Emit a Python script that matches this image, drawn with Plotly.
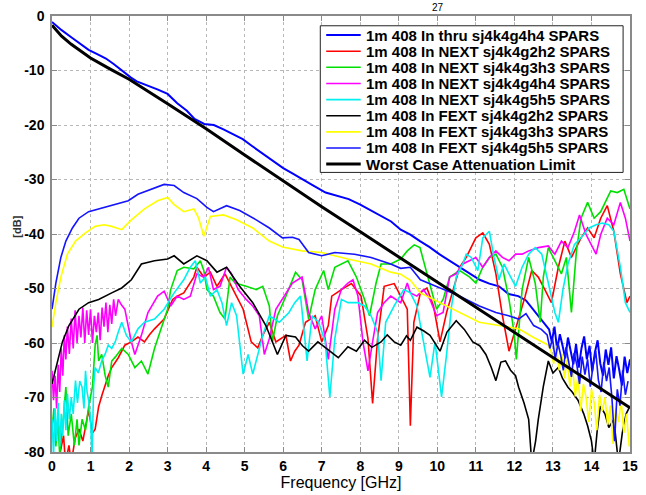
import plotly.graph_objects as go

# ---------------- measured data: frequency [GHz] and magnitude [dB] ----------------
thru_f = [0, 0.25, 0.5, 0.75, 0.95, 1.2, 1.4, 1.6, 1.8, 1.95, 2.05, 2.2, 2.5, 2.75, 3.0, 3.25,
          3.5, 3.7, 3.95, 4.2, 4.45, 4.7, 4.95, 5.2, 5.4, 5.6, 5.8, 6.0, 6.25, 6.5, 6.75, 7.1,
          7.4, 7.7, 8.0, 8.2, 8.5, 8.8, 9.05, 9.3, 9.55, 9.8, 10.05, 10.3, 10.6, 10.85, 11.1,
          11.35, 11.6, 11.85, 12.1, 12.3, 12.55, 12.8,
          12.9, 12.97, 13.04, 13.11, 13.18, 13.25, 13.32, 13.39, 13.46, 13.53, 13.6, 13.67,
          13.74, 13.81, 13.88, 13.95, 14.02, 14.09, 14.16, 14.23, 14.3, 14.37, 14.44, 14.51,
          14.58, 14.65, 14.72, 14.79, 14.86, 14.93, 15.0]
thru_db = [-1.1, -2.6, -3.9, -5.1, -6.2, -7.1, -7.8, -8.8, -9.9, -10.8, -11.3, -12.0, -12.8,
           -13.5, -14.3, -16.0, -17.4, -18.9, -19.8, -20.0, -20.8, -21.7, -22.6, -23.9, -24.9,
           -25.9, -26.9, -27.9, -28.9, -30.0, -31.0, -32.4, -33.0, -33.6, -34.6, -35.4, -36.5,
           -37.7, -39.2, -40.1, -41.3, -42.4, -43.7, -44.8, -46.1, -47.2, -48.4, -49.1, -49.6,
           -51.0, -51.4, -52.2, -54.4, -56.8,
           -57.5, -59.8, -57.0, -61.2, -58.4, -60.5, -62.8, -59.0, -61.5, -63.9, -60.2, -64.5,
           -61.0, -58.8, -63.0, -60.5, -65.2, -61.7, -59.5, -63.8, -66.0, -61.2, -64.0, -60.8,
           -66.5, -62.4, -64.9, -67.8, -62.5, -65.5, -63.0]

next22_f = [0, 0.1, 0.2, 0.3, 0.35, 0.44, 0.5, 0.6, 0.7, 0.8, 0.95, 1.05, 1.12, 1.21, 1.3, 1.38,
            1.46, 1.55, 1.72, 1.89, 2.06, 2.23, 2.4, 2.53, 2.66, 2.91, 3.13, 3.25, 3.42, 3.68,
            3.76, 3.94, 4.11, 4.28, 4.49, 4.7, 4.96, 5.17, 5.34, 5.47, 5.64, 5.81, 6.07, 6.19,
            6.3, 6.41, 6.58, 6.83, 7.0, 7.17, 7.26, 7.51, 7.77, 8.02, 8.2, 8.32, 8.45, 8.62,
            8.88, 9.05, 9.22, 9.3, 9.39, 9.56, 9.73, 9.9, 10.07, 10.24, 10.41, 10.58, 10.75,
            11.0, 11.18, 11.35, 11.52, 11.69, 11.86, 12.03, 12.28, 12.45, 12.62, 12.79, 12.96,
            13.14, 13.31, 13.48, 13.73, 13.9, 14.07, 14.24, 14.41, 14.58, 14.75, 14.92, 15.0]
next22_db = [-85, -82, -80.5, -77, -82, -78.8, -82, -77.5, -75.8, -78, -72.3, -76.5, -75.8,
             -71.7, -69.5, -67.5, -66, -64.5, -62.7, -60.4, -59.8, -58.9, -59.8, -58.5, -57.4,
             -55.6, -52.0, -51.4, -50.8, -47.9, -46.1, -47.9, -47.0, -49.6, -47.3, -50.2, -53.8,
             -59.8, -60.9, -58.6, -56.2, -59.8, -58.6, -63.3, -61.5, -60.4, -56.2, -55.0, -59.8,
             -56.8, -51.4, -50.2, -49.1, -51.4, -59.2, -71.1, -59.2, -49.6, -49.1, -51.4, -53.8,
             -75.2, -56.2, -50.8, -49.9, -53.2, -59.8, -54.4, -50.2, -46.1, -44.3, -40.7, -39.8,
             -41.9, -47.3, -55.0, -61.5, -57.4, -51.4, -46.7, -47.9, -50.2, -52.6, -46.1, -41.3,
             -44.3, -40.7, -38.9, -40.7, -37.1, -34.8, -39.5, -47.3, -52.6, -51.4]

next33_f = [0, 0.05, 0.1, 0.15, 0.2, 0.28, 0.36, 0.42, 0.5, 0.58, 0.65, 0.7, 0.78, 0.87, 0.95,
            1.05, 1.12, 1.17, 1.21, 1.29, 1.38, 1.46, 1.55, 1.65, 1.81, 1.98, 2.15, 2.32, 2.49,
            2.66, 2.83, 3.0, 3.08, 3.25, 3.42, 3.68, 3.85, 3.94, 4.02, 4.19, 4.36, 4.49, 4.62,
            4.75, 5.04, 5.3, 5.47, 5.64, 5.72, 5.85, 6.07, 6.32, 6.49, 6.66, 6.83, 7.05, 7.17,
            7.34, 7.68, 7.9, 8.11, 8.24, 8.41, 8.54, 8.79, 9.05, 9.22, 9.4, 9.55, 9.64, 9.81,
            9.98, 10.15, 10.32, 10.58, 10.84, 11.0, 11.18, 11.35, 11.52, 11.69, 11.86, 11.99,
            12.05, 12.2, 12.37, 12.54, 12.67, 12.75, 12.88, 13.05, 13.22, 13.35, 13.48, 13.61,
            13.73, 13.9, 14.07, 14.24, 14.5, 14.67, 14.84, 15.0]
next33_db = [-76, -72, -79, -74, -80.5, -75, -68.1, -77, -73, -78.8, -74, -78.8, -74.0, -76,
             -71.7, -68, -60.4, -58.6, -63.3, -62.1, -66, -68.1, -63.3, -62.5, -61.0, -62.1,
             -64.5, -63.3, -65.7, -61.0, -57.4, -53.8, -50.2, -46.7, -46.1, -46.4, -44.9, -46.7,
             -50.2, -51.4, -54.4, -55.6, -47.9, -49.0, -49.6, -50.2, -49.6, -53.2, -59.8, -55.0,
             -51.4, -47.0, -48.4, -55.6, -50.2, -46.7, -50.2, -46.1, -44.9, -47.9, -52.0, -55.0,
             -49.0, -45.5, -45.5, -44.6, -43.1, -42.0, -42.5, -44.9, -49.0, -53.8, -52.0, -47.9,
             -46.7, -47.9, -49.0, -46.1, -44.3, -43.7, -46.1, -52.0, -58.0, -63.0, -50.2, -44.3,
             -49.0, -56.2, -47.9, -42.5, -44.9, -47.3, -44.3, -54.4, -43.1, -37.1, -34.2, -37.1,
             -35.9, -32.1, -32.4, -31.8, -35.4]

next44_f = [0, 0.04, 0.08, 0.12, 0.16, 0.2, 0.24, 0.28, 0.32, 0.36, 0.4, 0.45, 0.5, 0.55, 0.6,
            0.65, 0.7, 0.75, 0.8, 0.85, 0.9, 0.95, 1.0, 1.05, 1.1, 1.15, 1.2, 1.25, 1.3, 1.35,
            1.4, 1.45, 1.5, 1.55, 1.6, 1.65, 1.72, 1.8, 1.89, 2.06, 2.15, 2.32, 2.49, 2.74, 2.91,
            3.08, 3.25, 3.42, 3.59, 3.76, 3.94, 4.06, 4.19, 4.36, 4.53, 4.66, 4.83, 5.04, 5.21,
            5.38, 5.51, 5.64, 5.81, 5.98, 6.24, 6.49, 6.66, 6.83, 7.0, 7.17, 7.34, 7.51, 7.68,
            7.81, 7.94, 8.07, 8.2, 8.32, 8.45, 8.62, 8.79, 9.05, 9.22, 9.3, 9.47, 9.64, 9.81,
            9.98, 10.15, 10.32, 10.49, 10.66, 10.84, 11.0, 11.18, 11.35, 11.52, 11.69, 11.86,
            12.03, 12.2, 12.37, 12.62, 12.88, 13.05, 13.22, 13.39, 13.56, 13.69, 13.86, 13.99,
            14.12, 14.24, 14.41, 14.58, 14.75, 14.88, 15.0]
next44_db = [-65.1, -70.5, -66, -72, -64, -69, -61, -66, -58.6, -63, -57, -62, -55.5, -61, -54,
             -60, -55, -59, -53.5, -60, -54, -58.5, -53.8, -60, -55, -58, -54.4, -59.5, -53.5,
             -57, -52.6, -58, -53, -56.5, -52.0, -55, -52.0, -53.0, -53.8, -59.8, -62.1, -58.6,
             -54.4, -51.4, -50.5, -53.2, -51.4, -52.0, -51.4, -47.3, -47.9, -46.1, -50.2, -49.6,
             -46.1, -47.3, -50.2, -52.0, -53.2, -55.0, -62.1, -59.2, -53.8, -52.0, -49.0, -47.9,
             -54.4, -57.4, -55.0, -63.0, -53.8, -50.2, -49.0, -48.4, -51.4, -59.8, -65.1, -59.8,
             -54.4, -52.6, -51.4, -52.6, -49.0, -50.8, -51.4, -50.2, -52.0, -55.0, -54.4, -47.9,
             -47.3, -45.5, -44.9, -44.3, -46.1, -44.3, -43.1, -44.3, -44.9, -43.7, -43.7, -43.1,
             -42.5, -42.2, -43.7, -41.3, -42.5, -39.5, -36.5, -40.1, -41.9, -43.7, -40.1, -37.1,
             -38.3, -34.2, -37.1, -41.3]

next55_f = [0, 0.04, 0.08, 0.12, 0.16, 0.2, 0.24, 0.28, 0.32, 0.36, 0.4, 0.45, 0.5, 0.55, 0.61,
            0.66, 0.72, 0.78, 0.83, 0.87, 0.91, 0.95, 1.0, 1.04, 1.08, 1.12, 1.2, 1.29, 1.38,
            1.46, 1.55, 1.64, 1.72, 1.81, 1.93, 2.06, 2.23, 2.4, 2.66, 2.91, 3.17, 3.42, 3.59,
            3.72, 3.85, 3.98, 4.11, 4.28, 4.41, 4.53, 4.66, 4.79, 4.96, 5.09, 5.21, 5.34, 5.47,
            5.64, 5.9, 6.15, 6.3, 6.45, 6.62, 6.75, 6.92, 7.09, 7.21, 7.34, 7.51, 7.68, 7.94,
            8.11, 8.28, 8.45, 8.54, 8.66, 8.88, 9.13, 9.3, 9.47, 9.64, 9.81, 9.94, 10.11, 10.24,
            10.37, 10.49, 10.66, 10.75, 10.88, 11.05, 11.18, 11.35, 11.47, 11.6, 11.73, 11.86,
            12.03, 12.2, 12.37, 12.54, 12.71, 12.88, 13.05, 13.14, 13.26, 13.39, 13.56, 13.73,
            13.94, 14.12, 14.28, 14.45, 14.58, 14.75, 14.88, 15.0]
next55_db = [-74, -80.5, -72, -78, -71, -79, -73, -77, -70.5, -76, -69.3, -74, -70, -73, -66.9,
             -71, -67, -68.1, -72, -65.1, -69, -70.5, -74, -81, -68, -64.5, -65.5, -63.3, -62.0,
             -60.4, -61.0, -59.8, -58.0, -56.2, -58.6, -59.8, -57.4, -56.2, -55.6, -53.8, -50.8,
             -48.4, -46.1, -44.9, -49.0, -47.9, -51.4, -50.2, -52.6, -56.8, -52.6, -55.0, -65.7,
             -62.1, -65.7, -62.1, -58.6, -55.0, -56.2, -54.4, -52.6, -51.4, -63.3, -55.0, -56.2,
             -59.8, -69.9, -59.2, -52.0, -52.6, -52.6, -53.2, -55.0, -58.0, -66.9, -56.2, -53.2,
             -50.2, -50.8, -53.2, -59.8, -66.3, -59.8, -69.9, -62.1, -53.2, -47.9, -45.5, -43.7,
             -44.3, -46.7, -40.7, -39.5, -44.3, -48.4, -45.5, -47.3, -49.6, -46.1, -43.7, -42.5,
             -43.7, -49.0, -54.4, -56.2, -50.2, -45.5, -41.9, -40.7, -38.9, -38.3, -38.0, -38.3,
             -39.5, -46.1, -52.6, -54.4]

fext22_f = [0, 0.1, 0.27, 0.44, 0.7, 0.95, 1.21, 1.55, 1.81, 2.06, 2.32, 2.66, 3.0, 3.17, 3.42,
            3.76, 4.02, 4.28, 4.53, 4.87, 5.21, 5.55, 5.85, 6.07, 6.32, 6.5, 6.66, 6.9, 7.09,
            7.25, 7.43, 7.68, 7.9, 8.11, 8.3, 8.54, 8.7, 8.88, 9.05, 9.2, 9.3, 9.47, 9.65, 9.81,
            10.07, 10.25, 10.49, 10.7, 10.92, 11.1, 11.26, 11.4, 11.52, 11.65, 11.77, 11.9,
            12.03, 12.11, 12.25, 12.37, 12.45, 12.55, 12.62, 12.75, 12.88, 13.0, 13.14, 13.25,
            13.39, 13.5, 13.65, 13.8, 13.9, 14.0, 14.07, 14.15, 14.23, 14.35, 14.45, 14.58,
            14.7, 14.8, 14.9, 15.0]
fext22_db = [-67.5, -64.5, -59.8, -56.8, -53.8, -52.6, -52.0, -50.8, -49.9, -48.4, -45.5, -44.9,
             -44.6, -44.0, -45.5, -44.0, -44.9, -47.0, -46.1, -49.6, -52.6, -56.8, -62.1, -58.6,
             -58.9, -60.5, -61.5, -59.8, -60.9, -61.8, -62.7, -60.7, -61.5, -59.5, -60.8, -59.8,
             -58.5, -59.8, -60.4, -58.7, -59.5, -57.1, -57.8, -58.6, -61.5, -58.0, -55.9, -57.5,
             -59.8, -60.5, -62.1, -64.5, -66.9, -63.5, -63.3, -65.0, -66.0, -68.1, -71.0, -74.0,
             -82.0, -78.0, -74.0, -68.0, -63.3, -65.5, -64.5, -66.5, -68.1, -69.0, -70.5, -73.0,
             -75.2, -78.0, -82.0, -76.0, -71.6, -73.0, -75.5, -74.0, -82.0, -76.5, -73.0, -71.6]

fext33_f = [0, 0.1, 0.23, 0.4, 0.61, 0.87, 1.12, 1.35, 1.55, 1.81, 2.06, 2.4, 2.74, 3.0, 3.17,
            3.42, 3.68, 3.8, 3.94, 4.05, 4.11, 4.45, 4.79, 5.21, 5.64, 5.98, 6.24, 6.49, 7.0,
            7.68, 8.28, 8.79, 9.05, 9.3, 9.56, 10.07, 10.58, 11.09, 11.6, 12.11, 12.5, 12.88,
            12.95, 13.02, 13.09, 13.16, 13.23, 13.3, 13.37, 13.44, 13.51, 13.58, 13.65, 13.72,
            13.79, 13.86, 13.93, 14.0, 14.07, 14.14, 14.21, 14.28, 14.35, 14.42, 14.49, 14.56,
            14.63, 14.7, 14.77, 14.84, 14.91, 14.98]
fext33_db = [-57.1, -52.6, -47.9, -43.7, -41.3, -39.8, -38.6, -38.3, -38.6, -39.2, -37.4, -35.4,
             -33.9, -33.3, -34.6, -35.9, -35.4, -37.0, -40.4, -38.0, -36.8, -36.5, -37.4, -38.9,
             -41.3, -42.4, -42.8, -43.1, -43.4, -44.6, -45.5, -47.0, -47.4, -48.5, -50.8, -52.6,
             -54.4, -56.2, -56.8, -57.4, -59.0, -60.4,
             -61.5, -63.8, -60.5, -65.0, -62.0, -66.5, -63.0, -68.0, -64.5, -69.8, -66.0, -72.5,
             -67.5, -70.0, -74.5, -68.5, -71.0, -76.0, -69.5, -72.5, -70.0, -75.0, -71.5, -78.5,
             -72.0, -74.5, -70.5, -76.5, -73.0, -79.0]

fext55_f = [0, 0.1, 0.23, 0.36, 0.53, 0.7, 0.95, 1.2, 1.55, 1.98, 2.23, 2.66, 2.91, 3.17, 3.42,
            3.76, 4.02, 4.19, 4.53, 4.87, 5.3, 5.64, 5.98, 6.24, 6.41, 6.66, 7.0, 7.34, 7.85,
            8.28, 8.79, 9.05, 9.3, 9.56, 10.07, 10.58, 11.09, 11.52, 11.85, 12.11, 12.3, 12.5,
            12.7, 12.85, 12.92, 12.99, 13.06, 13.13, 13.2, 13.27, 13.34, 13.41, 13.48, 13.55,
            13.62, 13.69, 13.76, 13.83, 13.9, 13.97, 14.04, 14.11, 14.18, 14.25, 14.32, 14.39,
            14.46, 14.53, 14.6, 14.67, 14.74, 14.81, 14.88, 14.95]
fext55_db = [-53.8, -49.0, -44.3, -41.3, -38.9, -37.1, -35.9, -35.4, -34.8, -33.9, -32.7, -31.5,
             -30.9, -31.1, -32.4, -33.5, -35.1, -35.9, -34.8, -35.7, -37.4, -38.9, -40.7, -40.6,
             -41.0, -43.4, -44.0, -43.4, -43.7, -44.3, -45.5, -46.3, -46.1, -48.4, -49.9, -51.4,
             -53.2, -54.4, -55.0, -55.6, -54.6, -56.8, -57.5,
             -58.5, -61.0, -59.2, -63.0, -60.0, -62.2, -65.0, -60.8, -63.5, -66.2, -61.8, -64.0,
             -67.5, -62.5, -65.8, -63.0, -68.0, -64.2, -61.5, -66.8, -69.0, -63.5, -67.0, -64.5,
             -70.0, -78.0, -68.5, -71.5, -65.0, -69.5, -67.0]

limit_f = [0, 0.25, 0.5, 1, 1.5, 2, 3, 4, 5, 6, 7, 8, 9, 10, 11, 12, 13, 14, 15]
limit_db = [-1.7, -3.7, -5.2, -7.7, -9.7, -11.6, -16.1, -20.7, -25.5, -30.3, -35.0, -39.6,
            -44.2, -48.8, -53.5, -58.1, -62.7, -67.3, -71.9]

x_ticks = list(range(0, 16))
y_ticks = [0, -10, -20, -30, -40, -50, -60, -70, -80]
y_tick_labels = ["0", "-10", "-20", "-30", "-40", "-50", "-60", "-70", "-80"]

series = [
    ("1m 408 In thru sj4k4g4h4 SPARS", thru_f, thru_db, "#0000ff", 2.0),
    ("1m 408 In NEXT sj4k4g2h2 SPARS", next22_f, next22_db, "#ff0000", 1.6),
    ("1m 408 In NEXT sj4k4g3h3 SPARS", next33_f, next33_db, "#00e000", 1.6),
    ("1m 408 In NEXT sj4k4g4h4 SPARS", next44_f, next44_db, "#ff00ff", 1.6),
    ("1m 408 In NEXT sj4k4g5h5 SPARS", next55_f, next55_db, "#00f0f0", 1.6),
    ("1m 408 In FEXT sj4k4g2h2 SPARS", fext22_f, fext22_db, "#000000", 1.6),
    ("1m 408 In FEXT sj4k4g3h3 SPARS", fext33_f, fext33_db, "#ffff00", 1.6),
    ("1m 408 In FEXT sj4k4g5h5 SPARS", fext55_f, fext55_db, "#1414ff", 1.6),
    ("Worst Case Attenuation Limit", limit_f, limit_db, "#000000", 3.0),
]

FONT = "Liberation Sans, Arial, sans-serif"

# plot-area geometry in pixels (figure is 646 x 495)
W, H = 646, 495
ML, MR, MT, MB = 52, 8, 13, 36
PW, PH = W - ML - MR, H - MT - MB


def px(xp):
    return (xp - ML) / PW


def py(yp):
    return (H - MB - yp) / PH


fig = go.Figure()
for name, f, db, color, width in series:
    fig.add_trace(go.Scatter(x=f, y=db, mode="lines", name=name, showlegend=False,
                             line=dict(color=color, width=width)))

# legend box drawn in paper coordinates
shapes = [dict(type="rect", xref="paper", yref="paper",
               x0=px(324), x1=px(631), y0=py(173), y1=py(23),
               line=dict(color="#222222", width=1), fillcolor="white", layer="above")]
annotations = []
row0, row_step = 32.5, 16.5
for i, (name, f, db, color, width) in enumerate(series):
    yc = row0 + i * row_step
    shapes.append(dict(type="line", xref="paper", yref="paper",
                       x0=px(330), x1=px(365), y0=py(yc), y1=py(yc),
                       line=dict(color=color, width=width), layer="above"))
    annotations.append(dict(text=name, xref="paper", yref="paper", x=px(368), y=py(yc),
                            xanchor="left", yanchor="middle", showarrow=False,
                            font=dict(family=FONT, size=15, color="black", weight="bold")))

# page number above the axes and the y-axis unit
annotations.append(dict(text="27", xref="paper", yref="paper", x=px(443), y=py(12),
                        xanchor="center", yanchor="bottom", showarrow=False,
                        font=dict(family=FONT, size=10, color="black")))
annotations.append(dict(text="[dB]", xref="paper", yref="paper", x=px(17), y=py(228),
                        xanchor="center", yanchor="middle", showarrow=False, textangle=-90,
                        font=dict(family=FONT, size=11, color="#333333", weight="bold")))

axis_common = dict(showgrid=True, gridcolor="#b8b8b8", griddash="dot", gridwidth=1,
                   showline=True, mirror="ticks", linecolor="#8a8a8a", linewidth=1.5,
                   ticks="inside", ticklen=5, tickcolor="#8a8a8a", zeroline=False,
                   tickfont=dict(family=FONT, size=14, color="black", weight="bold"))

fig.update_layout(
    width=W, height=H,
    margin=dict(l=ML, r=MR, t=MT, b=MB),
    paper_bgcolor="white", plot_bgcolor="white",
    font=dict(family=FONT, color="black"),
    shapes=shapes, annotations=annotations,
    xaxis=dict(range=[0, 15], tickvals=x_ticks, ticklabelstandoff=0,
               title=dict(text="Frequency [GHz]", standoff=2,
                          font=dict(family=FONT, size=16, color="black")),
               **axis_common),
    yaxis=dict(range=[-80, 0], tickvals=y_ticks, ticktext=y_tick_labels,
               ticklabelstandoff=3, **axis_common),
)

fig.write_html("out.html")
